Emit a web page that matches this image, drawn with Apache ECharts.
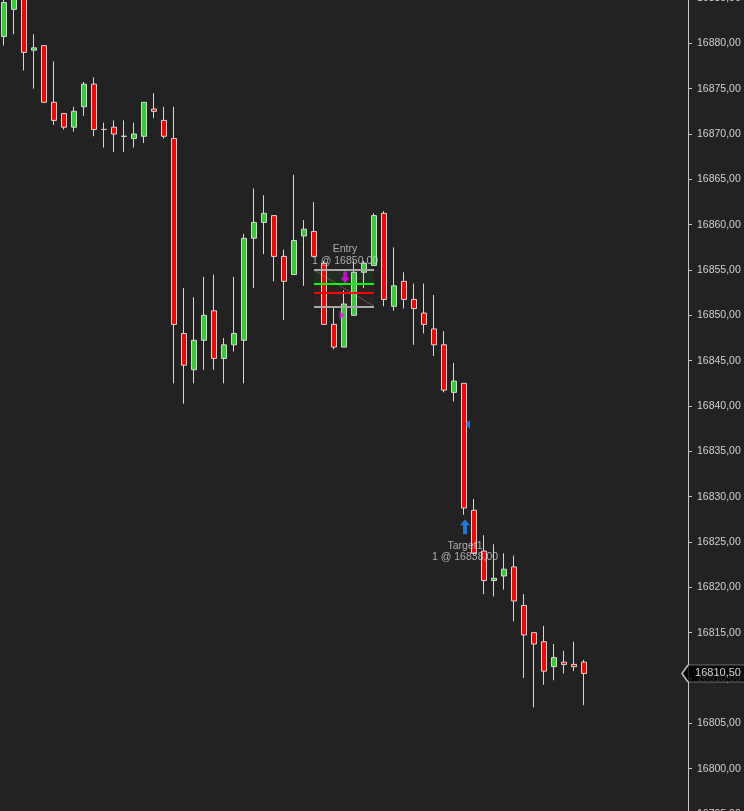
<!DOCTYPE html>
<html lang="en">
<head>
    <meta charset="UTF-8">
    <title>NQ 1 min</title>
    <script type="text/javascript" src="https://cdn.jsdelivr.net/npm/echarts@6/dist/echarts.min.js"></script>
    <style>
        html, body { margin: 0; padding: 0; background: #222222; }
    </style>
</head>
<body>
    <div id="chart1" style="width:744px;height:811px;"></div>
</body>
<script type="text/javascript">
    // bars, oldest first
    var opens  = [16880.75,16883.75,16885.5,16879.25,16879.75,16873.5,16872.25,16870.75,16873,16875.5,
                  16870.5,16870.75,16869.75,16869.5,16869.75,16872.75,16871.5,16869.5,16848,16844,
                  16847.25,16850.5,16845.25,16846.75,16847.25,16858.5,16860.25,16861,16856.5,16854.5,
                  16858.75,16859.25,16855.75,16849,16846.5,16850,16854.75,16855.5,16861.25,16851,
                  16853.75,16851.75,16850.25,16848.5,16846.75,16841.5,16842.5,16828.5,16824,16820.75,
                  16821.25,16822.25,16818,16815,16814,16811.25,16811.75,16811.5,16811.75]
    var highs  = [16885,16886,16886,16881,16879.75,16878,16872.25,16873,16875.75,16876.25,
                  16871.25,16871.5,16871.5,16871.25,16873.5,16874.5,16873,16873,16853,16852,
                  16854.25,16854.5,16847.5,16854.25,16859,16864,16863.25,16861,16857.25,16865.5,
                  16860.5,16862.5,16856,16851,16852.75,16856,16856,16861.25,16861.5,16857.5,
                  16854.75,16853.5,16853.5,16852.25,16848.25,16844.75,16842.5,16829.75,16825.75,16824.75,
                  16823.75,16823.5,16819.25,16815,16815.75,16813.75,16813,16814,16812]
    var lows   = [16879.75,16881,16877,16875,16873.5,16871,16870.5,16870.25,16872,16869.75,
                  16868.5,16868,16868,16868.5,16869,16871.75,16869.5,16842.5,16840.25,16842.5,
                  16844,16844,16842.5,16846,16842.5,16853,16856.75,16853.75,16849.5,16854.5,
                  16853.25,16856.5,16849,16846.25,16846.5,16850,16853,16855.5,16851,16850.5,
                  16850.75,16846.75,16848,16845.5,16841.5,16840.5,16828,16823.5,16819.25,16819,
                  16819.75,16816.25,16810,16806.75,16809.25,16809.75,16810.5,16810.75,16807]
    var closes = [16884.5,16885.5,16879,16879.5,16873.5,16871.5,16870.75,16872.5,16875.5,16870.5,
                  16870.5,16870,16869.75,16870,16873.5,16872.5,16869.75,16849,16844.5,16847.25,
                  16850,16845.25,16846.75,16848,16858.5,16860.25,16861.25,16856.5,16853.75,16858.25,
                  16859.5,16856.5,16849,16846.5,16851.25,16854.75,16855.75,16861,16851.75,16853.25,
                  16851.75,16850.75,16849,16846.75,16841.75,16842.75,16828.75,16823.75,16820.75,16821,
                  16822,16818.5,16814.75,16813.75,16810.75,16812.25,16811.5,16811.25,16810.5]
    var padBars = 10   // empty slots between the last bar and the price scale

    // price scale
    var priceMin = 16795
    var priceMax = 16885
    var priceStep = 5

    // trade: entry bracket drawn from bar 31 to bar 37
    var bracketFrom = 31
    var bracketTo = 37
    var bracketTop = 16855
    var bracketEntry = 16853.5
    var bracketStop = 16852.5
    var bracketBottom = 16851

    // executions [bar index, price]
    var entryArrow = [34, 16853.5]
    var entryFill = [34, 16850]
    var entryText = 'Entry\n1 @ 16850,00'
    var targetArrow = [46, 16827.5]
    var targetFill = [46, 16838]
    var targetText = 'Target1\n1 @ 16838,00'

    var categories = []
    var ohlc = []
    for (var i = 0; i < opens.length + padBars; i++) {
        categories.push(String(i + 1))
        if (i < opens.length) {
            ohlc.push([opens[i], closes[i], lows[i], highs[i]])
        } else {
            ohlc.push(['-', '-', '-', '-'])
        }
    }
    var lastIndex = categories.length - 1
    var lastClose = closes[closes.length - 1]

    function fmt(v) {
        return Number(v).toFixed(2).replace('.', ',')
    }

    var textFont = {
        color: '#cfcfcf',
        fontSize: 10.5,
        fontFamily: 'Liberation Sans, Arial, sans-serif',
        lineHeight: 11.5,
        align: 'center'
    }

    var chart = echarts.init(document.getElementById('chart1'))
    var option = {
        backgroundColor: '#222222',
        animation: false,
        grid: {
            left: -1, right: 55, top: -2, bottom: -3,
            outerBoundsMode: 'none'
        },
        xAxis: {
            type: 'category',
            data: categories,
            show: false
        },
        yAxis: {
            type: 'value',
            position: 'right',
            offset: -1,
            min: priceMin,
            max: priceMax,
            interval: priceStep,
            scale: true,
            axisLine: { show: true, lineStyle: { color: '#c8c8c8', width: 1 } },
            axisTick: { show: true, length: 4, lineStyle: { color: '#c8c8c8' } },
            axisLabel: {
                margin: 9,
                color: '#cfcfcf',
                fontSize: 10.5,
                fontFamily: 'Liberation Sans, Arial, sans-serif',
                formatter: fmt
            },
            splitLine: { show: false }
        },
        series: [
            {
                type: 'candlestick',
                data: ohlc,
                barWidth: 6,
                itemStyle: {
                    color: '#32cd32',
                    color0: '#ff0000',
                    borderColor: '#d6d6d6',
                    borderColor0: '#d6d6d6',
                    borderColorDoji: '#d6d6d6',
                    borderWidth: 1
                },
                markArea: {
                    silent: true,
                    data: [
                        [{ coord: [bracketFrom, bracketTop], itemStyle: { color: 'rgba(40,160,40,0.10)' } },
                         { coord: [bracketTo, bracketEntry] }],
                        [{ coord: [bracketFrom, bracketEntry], itemStyle: { color: 'rgba(160,40,40,0.08)' } },
                         { coord: [bracketTo, bracketBottom] }]
                    ]
                },
                markLine: {
                    silent: true,
                    symbol: ['none', 'none'],
                    label: { show: false },
                    data: [
                        [{ coord: [bracketFrom, bracketTop], lineStyle: { color: '#a8a8a8', width: 2, type: 'solid' } },
                         { coord: [bracketTo, bracketTop] }],
                        [{ coord: [bracketFrom, bracketBottom], lineStyle: { color: '#a8a8a8', width: 2, type: 'solid' } },
                         { coord: [bracketTo, bracketBottom] }],
                        [{ coord: [bracketFrom, bracketEntry], lineStyle: { color: '#00ff00', width: 2, type: 'solid' } },
                         { coord: [bracketTo, bracketEntry] }],
                        [{ coord: [bracketFrom, bracketStop], lineStyle: { color: '#ff0000', width: 2, type: 'solid' } },
                         { coord: [bracketTo, bracketStop] }],
                        [{ coord: [bracketFrom, bracketTop], lineStyle: { color: 'rgba(190,190,190,0.35)', width: 1, type: 'solid' } },
                         { coord: [bracketTo, bracketBottom] }]
                    ]
                }
            },
            {
                // entry arrow + text
                type: 'scatter',
                z: 5,
                clip: false,
                data: [entryArrow],
                symbol: 'path://M3,0 L7,0 L7,6 L10,6 L5,12 L0,6 L3,6 Z',
                symbolSize: [9, 12],
                symbolOffset: [1, -6],
                itemStyle: { color: '#ff00ff' },
                label: Object.assign({ show: true, position: 'top', distance: 5, formatter: entryText }, textFont)
            },
            {
                type: 'scatter',
                z: 5,
                clip: false,
                data: [entryFill],
                symbol: 'path://M0,0 L5,4.5 L0,9 Z',
                symbolSize: [5, 9],
                symbolOffset: [-2, 0],
                itemStyle: { color: '#ff00ff' }
            },
            {
                // target arrow + text
                type: 'scatter',
                z: 5,
                clip: false,
                data: [targetArrow],
                symbol: 'path://M5,0 L10,6 L7,6 L7,15 L3,15 L3,6 L0,6 Z',
                symbolSize: [10, 15],
                symbolOffset: [1, 7.5],
                itemStyle: { color: '#1e8fff' },
                label: Object.assign({ show: true, position: 'bottom', distance: 6, formatter: targetText }, textFont)
            },
            {
                type: 'scatter',
                z: 5,
                clip: false,
                data: [targetFill],
                symbol: 'path://M5,0 L0,4.5 L5,9 Z',
                symbolSize: [5, 9],
                symbolOffset: [3.5, 0],
                itemStyle: { color: '#1e8fff' }
            },
            {
                // last price tag on the scale
                type: 'scatter',
                z: 10,
                clip: false,
                data: [[lastIndex, lastClose]],
                symbol: 'path://M0,8.5 L6,0 L64,0 L64,17 L6,17 Z',
                symbolSize: [64, 17],
                symbolOffset: [30, 0],
                itemStyle: { color: '#000000', borderColor: '#e8e8e8', borderWidth: 1 },
                label: {
                    show: true,
                    position: 'inside',
                    offset: [4, 0],
                    color: '#ffffff',
                    fontSize: 11,
                    fontFamily: 'Liberation Sans, Arial, sans-serif',
                    formatter: function (p) { return fmt(p.value[1]) }
                }
            }
        ]
    }
    chart.setOption(option)
</script>
</html>
